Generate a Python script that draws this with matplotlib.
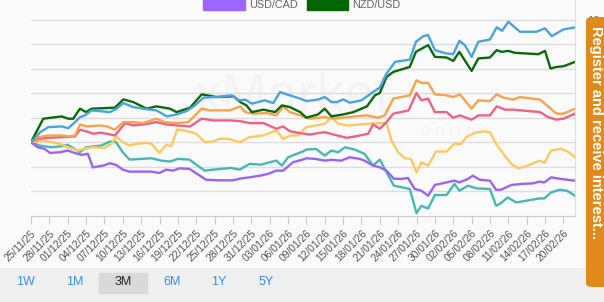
import numpy as np
import pandas as pd
import matplotlib
matplotlib.use("Agg")
import matplotlib.pyplot as plt
import matplotlib.dates as mdates
from matplotlib.patches import Rectangle, FancyBboxPatch

plt.rcParams['font.family'] = ['Liberation Sans', 'DejaVu Sans']

# ---------------- data (day offset from start date, % change) ----------------
start_date = "2025-11-25"

blue_days = [0, 1.5, 2.8, 5.0, 6.1, 7.2, 8.0, 8.8, 9.9, 12.9, 14.0, 15.1, 16.7, 18.3, 20.5, 22.2, 23.8, 25.4, 26.8, 28.2,
             30.3, 32.8, 33.9, 35.0, 36.1, 38.2, 39.6, 40.7, 42.3, 44.0, 45.0, 46.9, 48.0, 49.1, 50.0, 51.0, 52.1, 54.0,
             55.9, 57.0, 58.1, 59.5, 61.9, 62.9, 64.1, 64.9, 66.0, 67.9, 69.0, 70.0, 70.9, 72.0, 73.1, 75.0, 76.1, 77.0,
             78.0, 79.9, 82.6, 84.0, 85.1, 87.0, 88.9]
blue_vals = [0, 0.82, 1.23, 1.29, 1.15, 1.64, 2.05, 2.19, 2.60, 2.46, 2.74, 3.20, 2.87, 2.74, 2.60, 2.11, 2.27, 2.54, 3.01, 3.64,
             3.69, 3.83, 3.42, 3.48, 3.15, 3.42, 3.20, 4.10, 3.83, 3.56, 3.36, 3.48, 3.69, 3.28, 3.28, 3.50, 3.23, 3.42,
             4.10, 4.46, 5.61, 6.56, 6.75, 8.20, 8.66, 8.75, 7.52, 7.25, 7.19, 8.28, 7.93, 6.97, 8.20, 8.39, 9.38, 9.10,
             9.84, 9.02, 9.02, 9.30, 8.66, 9.21, 9.38]

green_days = [0, 2.0, 5.0, 6.1, 6.9, 8.0, 9.0, 9.9, 13.7, 15.1, 16.7, 18.9, 20.5, 22.7, 23.8, 26.0, 27.9, 30.3, 33.1, 34.2,
              35.2, 36.1, 38.0, 39.9, 41.0, 42.3, 44.0, 45.0, 46.9, 48.0, 49.1, 51.0, 52.7, 54.9, 56.2, 57.0, 58.1, 59.2,
              61.9, 62.9, 64.9, 66.0, 67.9, 69.0, 70.0, 72.0, 73.1, 75.0, 76.1, 76.9, 78.0, 79.1, 82.9, 84.0, 84.9, 85.9,
              87.0, 88.9]
green_vals = [0, 1.92, 2.11, 1.92, 1.92, 2.74, 2.46, 2.74, 2.82, 3.50, 3.28, 2.74, 2.93, 2.74, 2.46, 2.82, 3.91, 3.69, 3.75, 3.28,
              3.01, 2.46, 2.66, 2.46, 3.01, 2.87, 2.46, 2.00, 2.27, 2.74, 2.11, 2.27, 2.46, 2.93, 3.83, 4.02, 5.33, 5.74,
              6.15, 7.38, 7.93, 6.97, 6.92, 6.64, 7.38, 5.82, 6.84, 6.92, 7.52, 7.38, 7.46, 7.30, 7.19, 7.46, 6.02, 6.15,
              6.20, 6.56]

orange_days = [0, 1.2, 2.8, 5.0, 6.4, 7.2, 8.0, 9.1, 11.3, 12.4, 13.7, 15.1, 16.7, 18.3, 20.5, 21.9, 23.8, 25.7, 26.8, 27.9,
               29.2, 32.5, 34.2, 35.0, 36.3, 38.5, 40.1, 41.2, 42.3, 44.0, 45.6, 46.9, 48.0, 49.4, 51.6, 52.9, 54.9, 56.7,
               57.8, 59.2, 61.9, 63.0, 63.8, 64.9, 66.0, 67.9, 69.0, 70.1, 72.0, 73.1, 75.0, 76.1, 77.2, 78.8, 79.9, 83.2,
               84.5, 85.9, 87.0, 88.9]
orange_vals = [0, 0.41, 0.55, 0.55, 0.47, 0.55, 1.45, 1.29, 1.37, 1.29, 1.02, 1.64, 1.64, 1.56, 1.92, 1.64, 1.56, 1.64, 2.19, 2.74,
               2.60, 2.60, 2.93, 2.46, 2.33, 2.38, 2.19, 2.93, 2.46, 2.19, 1.92, 2.00, 2.05, 1.92, 2.05, 2.11, 2.19, 2.00,
               2.19, 3.56, 3.83, 5.06, 4.84, 4.84, 3.91, 3.83, 3.69, 3.91, 2.74, 3.42, 3.36, 3.91, 3.64, 3.48, 3.69, 3.48,
               2.93, 2.33, 2.33, 2.74]

pink_days = [0, 1.2, 2.8, 5.0, 7.2, 8.0, 9.1, 10.2, 11.3, 12.4, 13.7, 15.4, 16.7, 18.3, 20.5, 22.2, 23.8, 26.0, 27.9, 29.8,
             32.5, 34.2, 35.8, 38.0, 40.1, 41.2, 42.3, 44.0, 45.6, 46.9, 48.0, 49.4, 51.6, 52.9, 55.1, 55.9, 57.0, 58.1,
             59.2, 61.7, 63.0, 63.8, 64.9, 66.0, 67.9, 69.0, 70.1, 72.0, 73.1, 75.0, 76.1, 77.5, 78.8, 83.2, 84.5, 85.9,
             87.0, 88.9]
pink_vals = [0, 0.28, 0.36, 0.41, 0.47, 1.02, 0.88, 0.69, 0.77, 0.69, 0.55, 1.56, 1.37, 1.45, 1.64, 1.45, 1.37, 1.29, 1.92, 1.78,
             1.78, 1.72, 1.56, 1.56, 1.10, 1.29, 0.90, 0.74, 0.63, 0.74, 0.82, 0.63, 0.36, 0.47, 0.69, 1.45, 1.10, 1.64,
             2.33, 2.60, 4.02, 3.42, 3.56, 2.46, 2.46, 2.00, 2.19, 1.84, 2.19, 2.19, 2.93, 2.66, 2.66, 2.46, 2.05, 1.84,
             1.92, 2.33]

yellow_days = [0, 2.0, 4.7, 6.0, 7.7, 9.0, 10.1, 12.0, 13.1, 14.0, 15.0, 16.1, 17.2, 18.8, 19.7, 21.0, 22.1, 22.9, 23.9, 25.1,
               27.0, 28.4, 29.7, 30.8, 32.2, 34.1, 35.7, 37.9, 40.1, 41.2, 42.5, 43.6, 45.0, 46.6, 48.0, 49.1, 50.2, 51.8,
               53.4, 55.1, 56.7, 58.1, 58.9, 60.0, 61.1, 62.1, 63.0, 63.8, 64.9, 66.2, 67.9, 69.2, 70.3, 71.1, 72.5, 73.9,
               75.0, 76.0, 77.4, 78.5, 79.6, 81.2, 83.1, 83.9, 85.0, 86.6, 87.7, 88.9]
yellow_vals = [0, 0.14, -0.13, -0.41, -0.68, -0.49, -0.41, -0.46, -0.13, 0.45, 0.0, -0.27, -0.13, -0.05, -0.13, -0.87, -0.21,
               -0.33, 1.04, 0.96, 0.69, 0.0, 0.06, 0.28, 0.28, 0.0, 0.41, 0.55, 0.96, 0.28, 0.55, 0.55, 1.23, 1.37, 1.51,
               2.05, 1.51, 1.37, 1.43, 1.51, 1.56, 1.59, 0.14, -0.82, -1.31, -1.36, -2.46, -1.64, -1.91, -0.76, -0.76,
               -0.13, -0.13, 0.41, 0.77, 0.88, 0.82, -0.13, -1.09, -1.77, -2.13, -1.91, -1.50, -1.69, -0.68, -0.54,
               -0.76, -1.23]

purple_days = [0, 1.1, 2.2, 3.1, 4.7, 6.0, 7.1, 8.2, 9.3, 10.1, 11.8, 12.9, 13.9, 15.0, 16.1, 19.7, 21.0, 22.1, 23.2, 24.3,
               25.9, 27.6, 28.6, 30.6, 33.0, 34.4, 35.7, 37.4, 38.7, 40.1, 41.2, 42.8, 44.4, 45.0, 46.4, 48.0, 49.1, 50.7,
               52.1, 53.7, 54.5, 55.9, 57.0, 58.1, 59.3, 60.5, 61.6, 62.7, 63.8, 64.9, 66.0, 67.9, 69.2, 70.0, 71.4, 72.2,
               73.3, 75.0, 76.0, 76.8, 78.5, 80.1, 82.0, 83.1, 83.9, 85.0, 86.6, 88.9]
purple_vals = [0, -0.41, -0.54, -0.87, -0.82, -0.68, -0.87, -1.03, -0.95, -2.05, -1.91, -1.72, -1.85, -2.24, -2.40, -2.40,
               -2.51, -2.24, -2.32, -2.13, -2.18, -2.73, -3.06, -3.11, -3.11, -2.95, -2.87, -2.73, -2.59, -2.32, -2.32,
               -1.64, -1.42, -1.31, -1.36, -1.50, -1.44, -1.50, -1.23, -1.36, -1.50, -1.91, -2.05, -2.32, -2.98, -3.00,
               -2.92, -3.82, -3.96, -4.37, -3.49, -3.28, -3.14, -3.28, -3.00, -2.73, -3.06, -3.14, -3.88, -3.88, -3.49,
               -3.41, -3.36, -3.22, -3.28, -2.87, -3.00, -3.14]

teal_days = [0, 1.4, 3.3, 5.0, 6.0, 7.1, 8.0, 9.0, 11.5, 12.9, 13.9, 15.0, 16.1, 19.7, 21.3, 22.7, 24.0, 25.9, 27.6, 28.4,
             29.7, 31.1, 32.7, 34.1, 35.7, 37.6, 39.0, 40.1, 41.0, 42.0, 43.4, 44.4, 45.0, 46.6, 48.0, 49.1, 50.2, 51.3,
             52.9, 54.5, 55.9, 57.0, 58.1, 59.3, 61.9, 63.0, 63.8, 64.9, 66.0, 67.9, 69.2, 70.0, 71.4, 72.8, 75.0, 76.0,
             76.8, 77.9, 79.3, 80.9, 83.1, 83.9, 85.0, 86.4, 87.6, 88.9]
teal_vals = [0, -0.27, -0.41, -0.33, -0.21, -0.54, -0.82, -0.41, -0.27, 0.06, 0.0, -0.82, -1.42, -1.31, -1.50, -1.58, -1.36,
             -1.42, -2.05, -2.32, -2.24, -2.18, -2.10, -2.24, -1.77, -1.83, -1.64, -1.50, -1.91, -1.23, -0.95, -0.76,
             -0.60, -0.55, -1.09, -0.68, -0.82, -0.41, -0.60, -0.95, -1.91, -1.42, -2.46, -3.55, -3.82, -5.79, -5.19,
             -5.41, -4.31, -4.31, -3.41, -3.96, -3.55, -3.77, -3.82, -5.19, -4.97, -4.51, -4.92, -4.78, -4.59, -4.59,
             -4.10, -3.88, -3.96, -4.37]

series = [
    ("teal", teal_days, teal_vals, "#45b8b3"),
    ("purple", purple_days, purple_vals, "#9b63f5"),
    ("yellow", yellow_days, yellow_vals, "#fdc860"),
    ("pink", pink_days, pink_vals, "#ee6283"),
    ("orange", orange_days, orange_vals, "#f7a34c"),
    ("green", green_days, green_vals, "#0b6a0b"),
    ("blue", blue_days, blue_vals, "#4aa3df"),
]

legend_labels = ["USD/CAD", "NZD/USD"]
legend_colors = ["#9966ff", "#006400"]
y_ticks = [-4, -2, 0, 2, 4, 6, 8, 10]
y_ticklabels = ["", "", "", "", "", "", "", "10"]

tick_step_days = 3
n_ticks = 30
x_end_days = 88.9

# ---------------- figure ----------------
W, H = 604, 302
fig = plt.figure(figsize=(W / 100, H / 100), dpi=100, facecolor="#fafafa")

def fx(px):
    return px / W

def fy(py):
    return 1 - py / H

# bottom band
fig.add_artist(Rectangle((0, 0), 1, fy(268), transform=fig.transFigure, color="#efefef", zorder=0))

ax = fig.add_axes([fx(31), fy(215.7), fx(575) - fx(31), 1 - fy(215.7)])
ax.set_facecolor("#fafafa")

base = mdates.date2num(pd.Timestamp(start_date))
for name, d, v, c in series:
    ax.plot(base + np.array(d), v, color=c, lw=1.7, solid_joinstyle="round", zorder=3)

ax.set_xlim(base, base + x_end_days)
ax.set_ylim(-6, (141.7) / 12.2)
ax.set_yticks(y_ticks)
ax.set_yticklabels(y_ticklabels)
ax.grid(axis="y", color="#dddddd", lw=1, zorder=1)
ax.yaxis.tick_right()
ax.tick_params(axis="y", length=0, labelsize=8, labelcolor="#666666", pad=9)

ticks = base + np.arange(n_ticks) * tick_step_days
ax.set_xticks(ticks)
ax.set_xticklabels([mdates.num2date(t).strftime("%d/%m/%y") for t in ticks],
                   rotation=45, ha="right", va="top", rotation_mode="anchor",
                   fontsize=7.4, color="#555555")
ax.tick_params(axis="x", length=6, color="#cccccc", pad=3)

for s in ["left", "top"]:
    ax.spines[s].set_visible(False)
ax.spines["bottom"].set_color("#cccccc")
ax.spines["right"].set_color("#dddddd")

# faint watermark
ax.text(0.48, 0.55, "xMarket", transform=ax.transAxes, fontsize=40, color="#f3f3f3",
        ha="center", va="center", zorder=0.5)
ax.text(0.78, 0.39, "o n l i n e", transform=ax.transAxes, fontsize=12, color="#f3f3f3",
        ha="center", va="center", zorder=0.5)

# legend fragment at top
fig.add_artist(Rectangle((fx(203), fy(10)), fx(42), 0.06, transform=fig.transFigure,
                         color=legend_colors[0], zorder=5))
fig.text(fx(249), fy(4.5), legend_labels[0], fontsize=7.8, color="#666666", va="center", ha="left")
fig.add_artist(Rectangle((fx(307), fy(10)), fx(41), 0.06, transform=fig.transFigure,
                         color=legend_colors[1], zorder=5))
fig.text(fx(352), fy(4.5), legend_labels[1], fontsize=7.8, color="#666666", va="center", ha="left")

# range buttons
fig.add_artist(Rectangle((fx(99), fy(292.7)), fx(48), fy(272.7) - fy(292.7),
                         transform=fig.transFigure, color="#d9d9d9", zorder=1))
buttons = ["1W", "1M", "3M", "6M", "1Y", "5Y"]
bx = [25, 75, 123, 172, 219, 266]
for b, x in zip(buttons, bx):
    fig.text(fx(x), fy(282), b, fontsize=9, ha="center", va="center",
             color="#222222" if b == "3M" else "#3b8fe0", zorder=2)

# orange side panel
fig.add_artist(FancyBboxPatch((fx(586), fy(287)), fx(40), fy(17) - fy(287),
                              boxstyle="round,pad=0,rounding_size=0.012",
                              transform=fig.transFigure, facecolor="#e08a1b",
                              edgecolor="none", zorder=10))
fig.text(fx(596), fy(26), "Register and receive interest...", rotation=-90, fontsize=10.5,
         fontweight="bold", color="white", ha="center", va="top", zorder=11)

fig.savefig("out.png", dpi=100, facecolor=fig.get_facecolor())
